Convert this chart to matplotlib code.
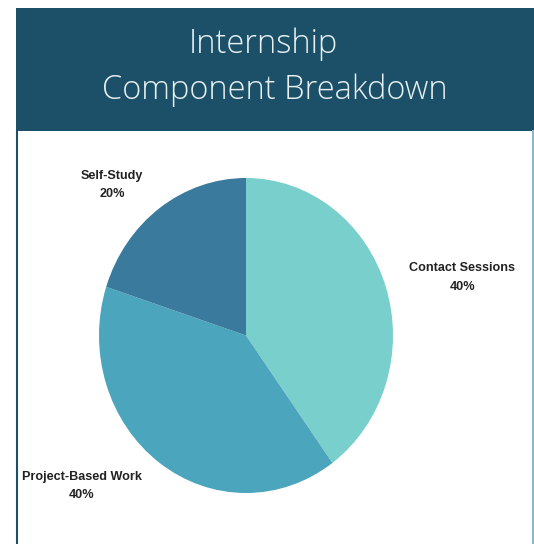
import matplotlib.pyplot as plt
from matplotlib.patches import Rectangle

# data
components = ['Contact Sessions', 'Project-Based Work', 'Self-Study']
shares = [40, 40, 20]
colors = ['#78cfcc', '#4ba5bd', '#3a7a9d']

# label positions (axes fraction) for each slice
label_pos = [(1.235, 0.683), (-0.058, 0.022), (0.044, 0.978)]

W, H = 534, 544
fig = plt.figure(figsize=(W / 100, H / 100), dpi=100)
fig.patch.set_facecolor('white')

# header band
fig.add_artist(Rectangle((16 / W, 1 - 131 / H), (W - 16) / W, 123 / H,
                         transform=fig.transFigure, facecolor='#1b5068',
                         edgecolor='none', zorder=0))
# white panel borders
fig.add_artist(plt.Line2D([16.5 / W, 16.5 / W], [0, 1 - 131 / H],
                          transform=fig.transFigure, color='#1b5068', lw=1.5))
fig.add_artist(plt.Line2D([532.5 / W, 532.5 / W], [0, 1 - 131 / H],
                          transform=fig.transFigure, color='#8ab8cc', lw=1.5))

fig.text(263 / W, 1 - 44 / H, 'Internship', ha='center', va='center',
         color='#e8f0f2', fontsize=23.5, family='Open Sans', fontweight='light')
fig.text(275 / W, 1 - 90 / H, 'Component Breakdown', ha='center', va='center',
         color='#e8f0f2', fontsize=23.5, family='Open Sans', fontweight='light')

ax = fig.add_axes([99 / W, 1 - 493 / H, 294 / W, 315 / H])
ax.pie(shares, colors=colors, startangle=90, counterclock=False,
       wedgeprops={'linewidth': 0})
ax.set_aspect('auto')
ax.set_xlim(-1, 1)
ax.set_ylim(-1, 1)

for name, val, (x, y) in zip(components, shares, label_pos):
    ax.text(x, y, f'{name}\n{val}%', transform=ax.transAxes, ha='center',
            va='center', fontsize=9.1, fontweight='bold',
            family='Liberation Sans', color='#222222', linespacing=1.75)

fig.savefig('out.png', dpi=100)
